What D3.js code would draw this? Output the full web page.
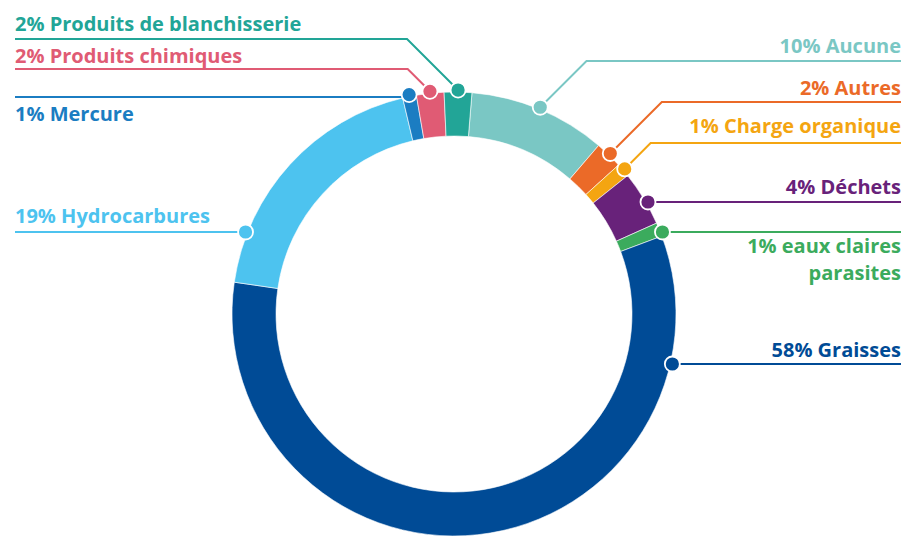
<!DOCTYPE html>
<html>
<head>
<meta charset="utf-8">
<script src="https://cdn.jsdelivr.net/npm/d3@7"></script>
<style>
  body { margin: 0; background: #fff; }
  svg text { font-family: 'Open Sans', sans-serif; font-weight: 700; }
</style>
</head>
<body>
<div id="chart"></div>
<script>
// data, clockwise from the top
const categories = ['Aucune', 'Autres', 'Charge organique', 'Déchets', 'eaux claires parasites',
  'Graisses', 'Hydrocarbures', 'Mercure', 'Produits chimiques', 'Produits de blanchisserie']
const values = [10, 2, 1, 4, 1, 58, 19, 1, 2, 2]
const labels = [
  ['10% Aucune'], ['2% Autres'], ['1% Charge organique'], ['4% Déchets'],
  ['1% eaux claires', 'parasites'], ['58% Graisses'], ['19% Hydrocarbures'],
  ['1% Mercure'], ['2% Produits chimiques'], ['2% Produits de blanchisserie']
]
const colors = ['#7ac7c4', '#eb6a28', '#f4a511', '#68227a', '#3bab5d',
  '#004b96', '#4dc3ef', '#1b7dc2', '#e05b74', '#22a597']

// label layout: side, y of the leader line, how the leader joins the ring, text baseline(s)
const layout = [
  { side: 'right', lineY: 61, kind: 'elbow', textY: [53] },
  { side: 'right', lineY: 102, kind: 'elbow', textY: [95] },
  { side: 'right', lineY: 143, kind: 'elbow', textY: [133] },
  { side: 'right', lineY: 202, kind: 'flat', textY: [194] },
  { side: 'right', lineY: 232, kind: 'flat', textY: [253, 280] },
  { side: 'right', lineY: 364, kind: 'flat', textY: [357] },
  { side: 'left', lineY: 232, kind: 'flat', textY: [223] },
  { side: 'left', lineY: 97, kind: 'elbow', textY: [121] },
  { side: 'left', lineY: 69, kind: 'elbow', textY: [63] },
  { side: 'left', lineY: 39, kind: 'elbow', textY: [31] }
]

const width = 906
const height = 538
const cx = 454
const cy = 314
const outerR = 222
const innerR = 178
const dotR = 224
const startOffset = 0.081

const data = categories.map((c, i) => ({ name: c, value: values[i], color: colors[i], label: labels[i], ...layout[i] }))

const svg = d3.select('#chart')
  .append('svg')
  .attr('width', width)
  .attr('height', height)

const g = svg.append('g').attr('transform', `translate(${cx},${cy})`)

const pie = d3.pie()
  .sort(null)
  .value(d => d.value)
  .startAngle(startOffset)
  .endAngle(startOffset + Math.PI * 2)

const arc = d3.arc().innerRadius(innerR).outerRadius(outerR)

const arcs = pie(data)

g.selectAll('.slice')
  .data(arcs)
  .enter()
  .append('path')
  .attr('class', 'slice')
  .attr('d', arc)
  .attr('fill', d => d.data.color)
  .attr('stroke', '#fff')
  .attr('stroke-width', 0.6)

// leader lines + dots
arcs.forEach(a => {
  const d = a.data
  let dot
  if (d.kind === 'elbow') {
    const ang = (a.startAngle + a.endAngle) / 2
    dot = [Math.sin(ang) * dotR, -Math.cos(ang) * dotR]
  } else {
    const y = d.lineY - cy
    const x = Math.sqrt(dotR * dotR - y * y)
    dot = [d.side === 'right' ? x : -x, y]
  }
  const ly = d.lineY - cy
  const dy = Math.abs(dot[1] - ly)
  const elbowX = d.side === 'right' ? dot[0] + dy : dot[0] - dy
  const endX = d.side === 'right' ? 901 - cx : 15 - cx
  const pts = [dot, [elbowX, ly], [endX, ly]]

  g.append('path')
    .attr('d', d3.line()(pts))
    .attr('fill', 'none')
    .attr('stroke', d.color)
    .attr('stroke-width', 2)

  g.append('circle')
    .attr('cx', dot[0])
    .attr('cy', dot[1])
    .attr('r', 7.5)
    .attr('fill', d.color)
    .attr('stroke', '#fff')
    .attr('stroke-width', 1.8)

  // one text element per line of the label
  d.label.forEach((t, i) => {
    svg.append('text')
      .attr('x', d.side === 'right' ? 901 : 15)
      .attr('y', d.textY[i])
      .attr('text-anchor', d.side === 'right' ? 'end' : 'start')
      .attr('fill', d.color)
      .style('font-size', '20px')
      .text(t)
  })
})
</script>
</body>
</html>
